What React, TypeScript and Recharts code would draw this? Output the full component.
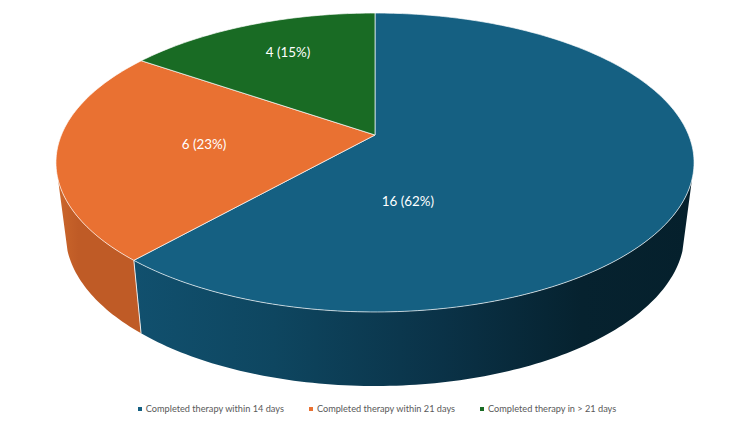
import { PieChart, Pie, Legend } from 'recharts';

const CATEGORIES = ['Completed therapy within 14 days', 'Completed therapy within 21 days', 'Completed therapy in > 21 days'];
const PATIENTS = [16, 6, 4];
const COLORS = ['#156082', '#E97132', '#196B24'];

// wall shading, left to right across the whole pie
const WALL_STOPS = [
    ['#11506e', '#0e4660', '#0a3247', '#06222f', '#05202c'],
    ['#cc672c', '#bf5b26', '#bf5b26', '#bf5b26', '#bf5b26'],
    ['#14561d', '#14561d', '#14561d', '#14561d', '#14561d']
];
const STOP_OFFSETS = ['0%', '25%', '55%', '80%', '100%'];

// label centres, measured from the pie centre
const LABEL_OFFSETS = [[33, 66], [-171, 9], [-87, -83]];

const CX = 375;
const CY = 135;
const RADIUS = 313.6;
const TILT = 144.4 / 313.6;
const PERSPECTIVE = 0.184;
const FLOOR_SCALE = 0.97;
const FLOOR_TILT = 1.02;
const FLOOR_DROP = 70.5;
const WALL_FROM = -17;
const WALL_TO = -163;

const total = PATIENTS.reduce((a, b) => a + b, 0);
const data = CATEGORIES.map((name, i) => ({ name, value: PATIENTS[i], fill: COLORS[i] }));

function project(angle: number, r: number, floor: boolean) {
    const a = (angle * Math.PI) / 180;
    const u = Math.cos(a);
    const v = Math.sin(a);
    const w = 1 + PERSPECTIVE * v;
    const sx = floor ? FLOOR_SCALE : 1;
    const sy = floor ? FLOOR_TILT : 1;
    const drop = floor ? FLOOR_DROP : 0;
    return [CX + (sx * r * u) / w, CY + drop - (sy * r * TILT * v) / w];
}

function arc(from: number, to: number, r: number, floor = false) {
    const steps = Math.max(1, Math.ceil(Math.abs(to - from)));
    const pts: number[][] = [];
    for (let i = 0; i <= steps; i++) {
        pts.push(project(from + ((to - from) * i) / steps, r, floor));
    }
    return pts;
}

const toPath = (pts: number[][]) => 'M' + pts.map(p => p[0].toFixed(2) + ' ' + p[1].toFixed(2)).join('L') + 'Z';

function Slice3D(props: any) {
    const { startAngle, endAngle, outerRadius, fill, index } = props;
    const top = arc(startAngle, endAngle, outerRadius);
    const wallStart = Math.min(startAngle, WALL_FROM);
    const wallEnd = Math.max(endAngle, WALL_TO);
    const hasWall = wallStart > wallEnd;
    const gradId = 'wall-' + index;
    const startsOnWall = startAngle < WALL_FROM && startAngle > WALL_TO;
    const edgeTop = project(startAngle, outerRadius, false);
    const edgeBottom = project(startAngle, outerRadius, true);
    return (
        <g>
            <defs>
                <linearGradient id={gradId} gradientUnits="userSpaceOnUse" x1={index === 1 ? 57 : 134} y1={0} x2={index === 1 ? 142 : 694} y2={0}>
                    {STOP_OFFSETS.map((o, i) => (
                        <stop key={o} offset={o} stopColor={WALL_STOPS[index][i]} />
                    ))}
                </linearGradient>
            </defs>
            {hasWall && (
                <path
                    d={toPath([...arc(wallStart, wallEnd, outerRadius), ...arc(wallEnd, wallStart, outerRadius, true)])}
                    fill={`url(#${gradId})`}
                />
            )}
            {startsOnWall && (
                <line x1={edgeTop[0]} y1={edgeTop[1]} x2={edgeBottom[0]} y2={edgeBottom[1]} stroke="#e8e8e8" strokeWidth={1} />
            )}
            <path d={toPath([[CX, CY], ...top])} fill={fill} stroke="#ffffff" strokeOpacity={0.75} strokeWidth={0.9} strokeLinejoin="round" />
        </g>
    );
}

function renderLabel(props: any) {
    const { index, value } = props;
    const off = LABEL_OFFSETS[index];
    return (
        <text x={CX + off[0]} y={CY + off[1]} textAnchor="middle" dominantBaseline="central" fill="#ffffff" fontSize={13.4} fontFamily="Lato, sans-serif">
            {`${value} (${Math.round((value / total) * 100)}%)`}
        </text>
    );
}

export default function App() {
    return (
        <div style={{ position: 'absolute', left: 0, top: 0, width: 750, height: 422, background: '#fff' }}>
            <PieChart width={750} height={422} margin={{ top: 0, right: 0, bottom: 0, left: 0 }}>
                <Pie
                    data={data}
                    dataKey="value"
                    nameKey="name"
                    cx={CX}
                    cy={CY}
                    innerRadius={0}
                    outerRadius={RADIUS}
                    startAngle={90}
                    endAngle={-270}
                    stroke="none"
                    shape={Slice3D}
                    label={renderLabel}
                    labelLine={false}
                    isAnimationActive={false}
                />
                <Legend
                    layout="horizontal"
                    align="center"
                    verticalAlign="bottom"
                    iconType="square"
                    iconSize={4}
                    itemSorter={null}
                    wrapperStyle={{ left: 14.5, bottom: 8.5, width: 750, fontFamily: 'Lato, sans-serif', fontSize: 9.2 }}
                    formatter={(value: string) => (
                        <span style={{ color: '#595959', marginRight: 15 }}>{value}</span>
                    )}
                />
            </PieChart>
        </div>
    );
}
